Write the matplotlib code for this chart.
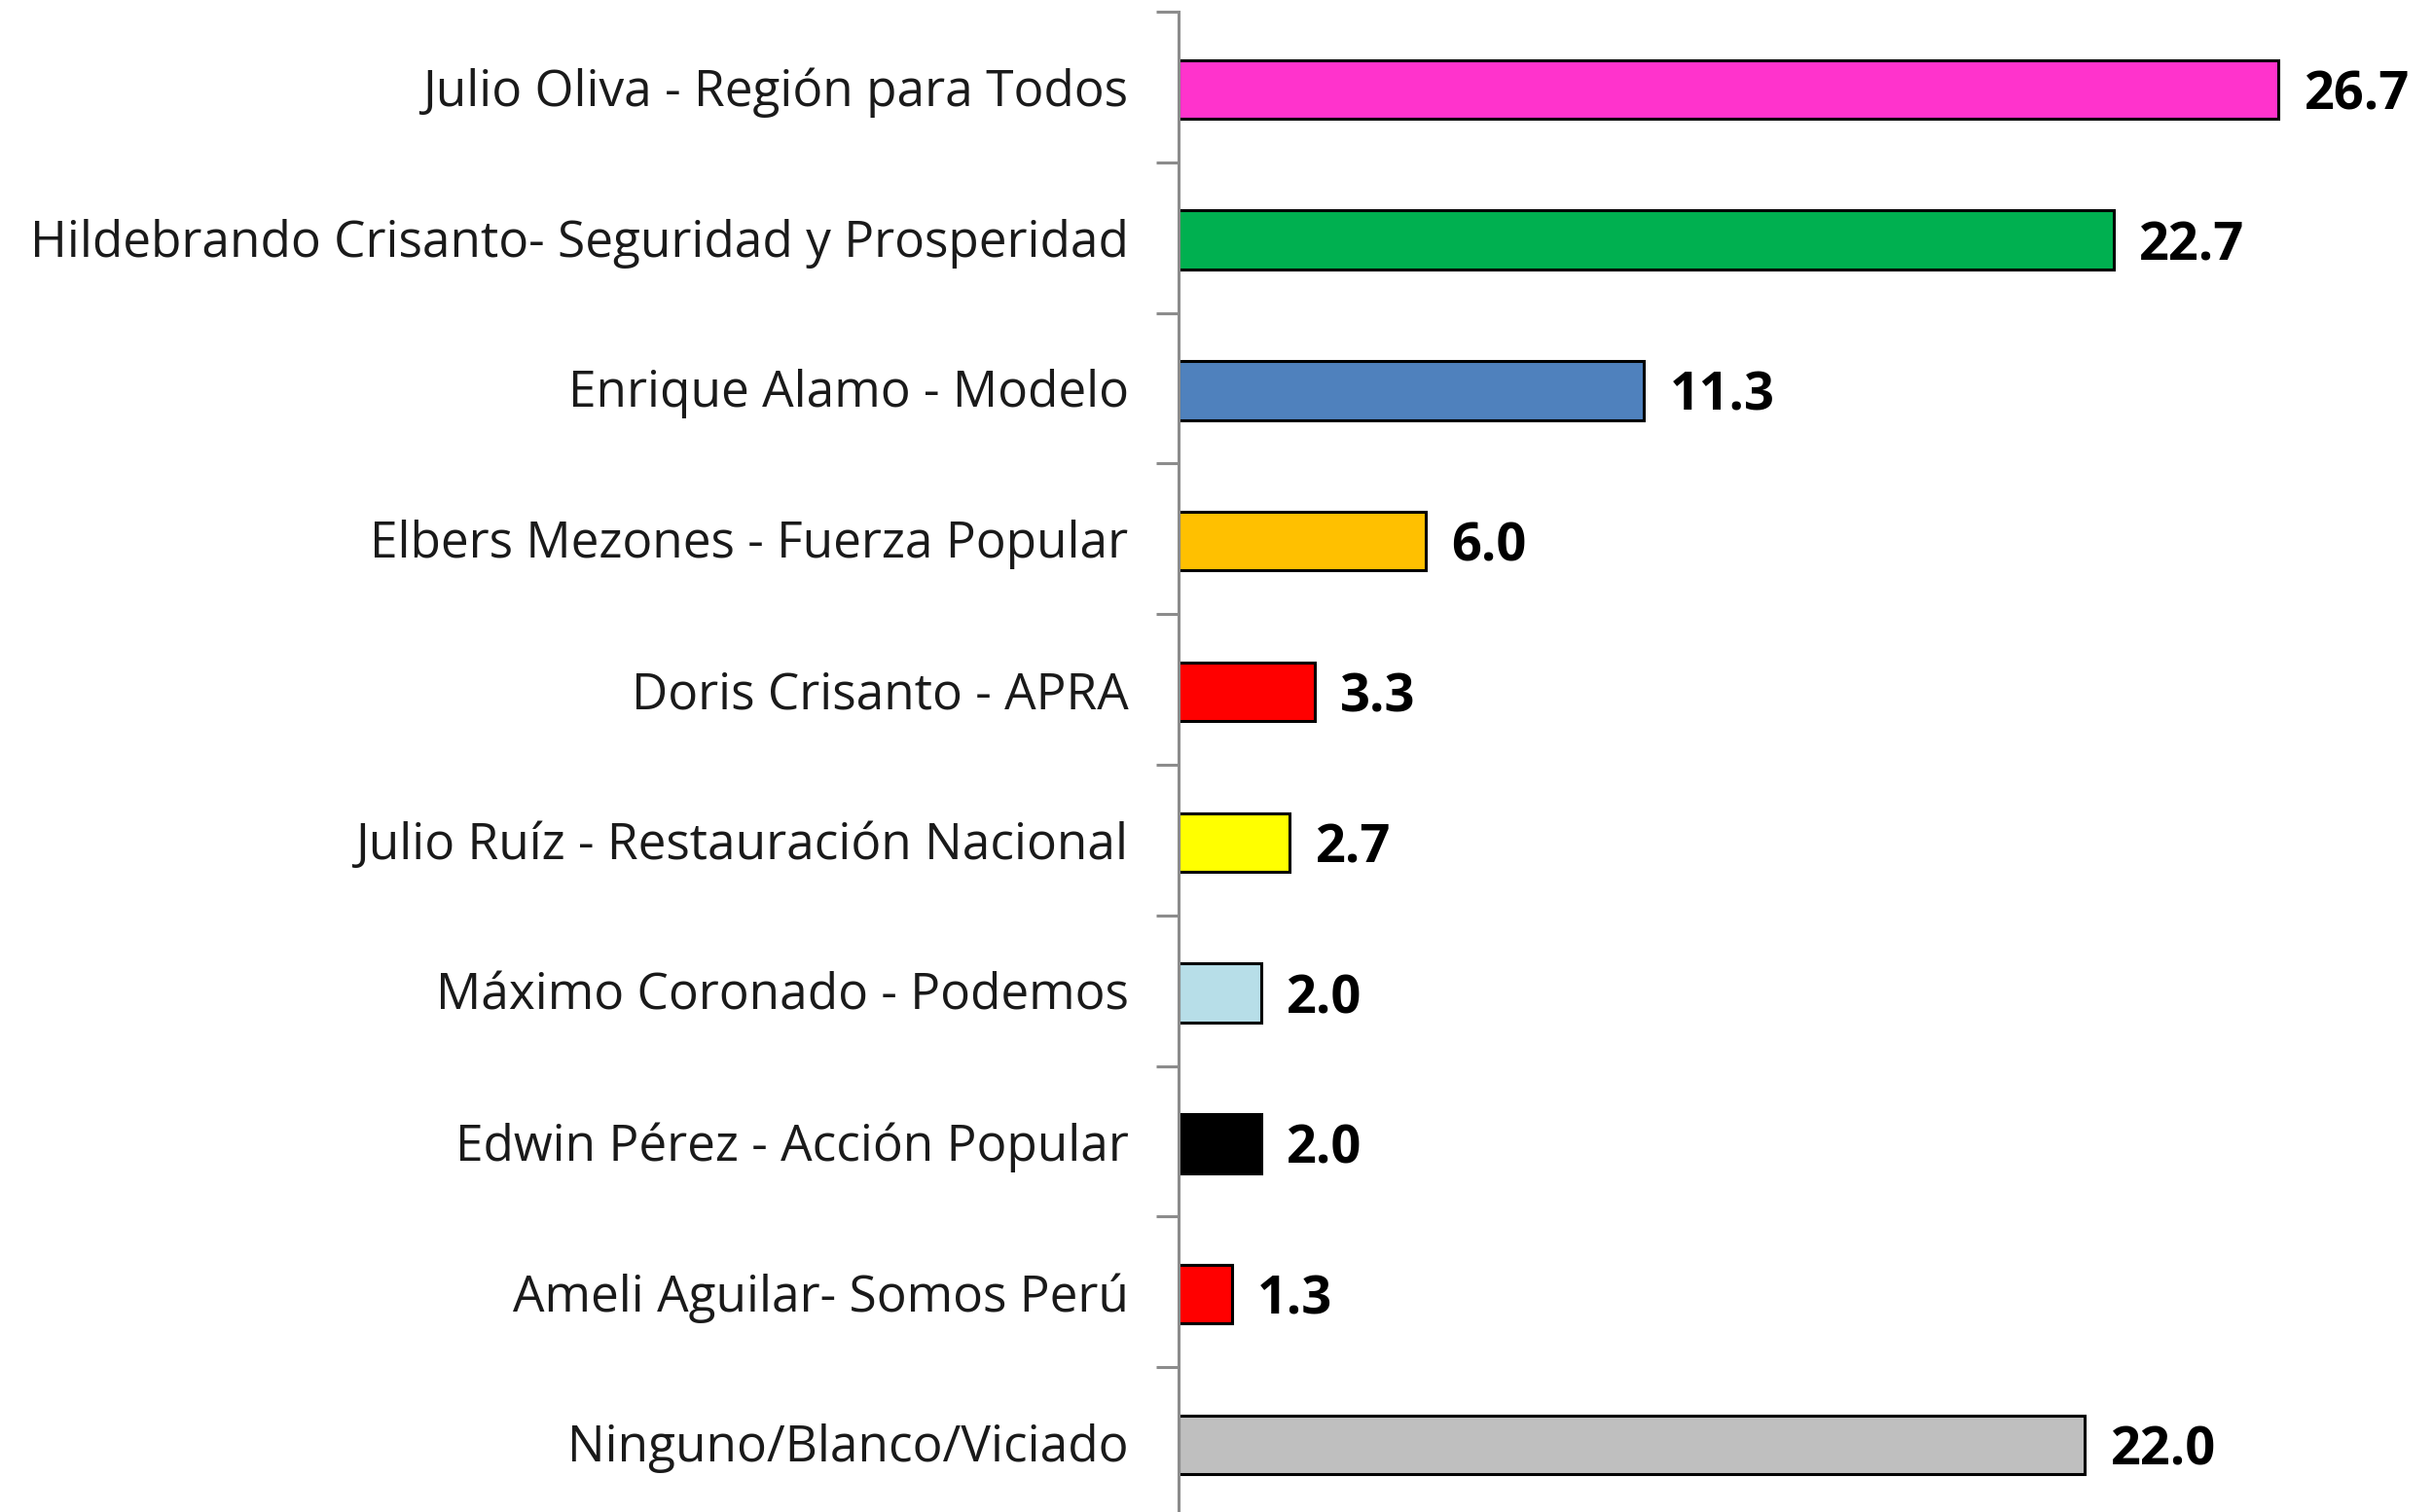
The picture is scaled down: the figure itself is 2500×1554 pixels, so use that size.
import matplotlib
matplotlib.use("Agg")
import matplotlib.pyplot as plt
import numpy as np

# candidates and vote share (%)
candidates = ["Julio Oliva - Región para Todos",
              "Hildebrando Crisanto- Seguridad y Prosperidad",
              "Enrique Alamo - Modelo",
              "Elbers Mezones - Fuerza Popular",
              "Doris Crisanto - APRA",
              "Julio Ruíz - Restauración Nacional",
              "Máximo Coronado - Podemos",
              "Edwin Pérez - Acción Popular",
              "Ameli Aguilar- Somos Perú",
              "Ninguno/Blanco/Viciado"]
values = [26.7, 22.7, 11.3, 6.0, 3.3, 2.7, 2.0, 2.0, 1.3, 22.0]
colors = ["#FF33CC", "#00B050", "#4F81BD", "#FFC000", "#FF0000",
          "#FFFF00", "#B7DEE8", "#000000", "#FF0000", "#BFBFBF"]

plt.rcParams['font.family'] = ['Open Sans', 'DejaVu Sans']

W, H, DPI = 2500, 1554, 100
fig = plt.figure(figsize=(W / DPI, H / DPI), dpi=DPI)
# axes box in pixels: left spine at x=1211, top at y=12, row pitch ~154.7 px
ax = fig.add_axes([1211 / W, 1 - 1560 / H, 1 - 1211 / W, 1548 / H])

y = np.arange(len(candidates))
ax.barh(y + 0.015, values, height=0.39, color=colors, edgecolor="black", linewidth=2.2)

for yi, v in zip(y, values):
    ax.text(v + 0.62, yi + 0.015, f"{v:.1f}", va="center_baseline", ha="left",
            fontsize=39, fontweight="bold", color="black")

ax.set_xlim(0, (W - 1212) / 42.3)
ax.set_ylim(len(candidates) - 0.5, -0.5)

ax.set_yticks(y)
ax.set_yticklabels(candidates, fontsize=37, color="#1a1a1a")
ax.tick_params(axis="y", which="major", length=0, pad=37)
ax.set_yticks(np.arange(-0.5, len(candidates) - 0.5, 1), minor=True)
ax.tick_params(axis="y", which="minor", length=16.5, width=2.2, color="#8c8c8c", direction="out")
ax.set_xticks([])

for s in ["top", "right", "bottom"]:
    ax.spines[s].set_visible(False)
ax.spines["left"].set_color("#8c8c8c")
ax.spines["left"].set_linewidth(2.2)

fig.savefig("out.png", dpi=DPI)
